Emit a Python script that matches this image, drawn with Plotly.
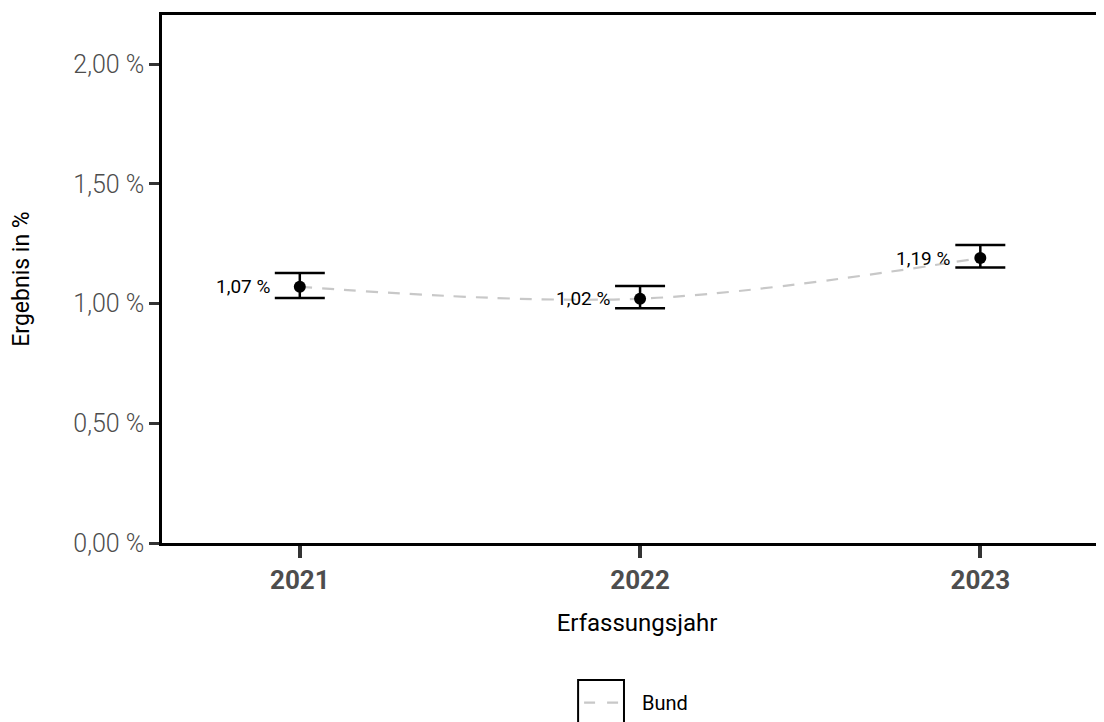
import plotly.graph_objects as go

years = [2021, 2022, 2023]
values = [1.07, 1.02, 1.19]
ci_upper = [1.127, 1.073, 1.244]
ci_lower = [1.023, 0.980, 1.150]
y_ticks = [0.0, 0.5, 1.0, 1.5, 2.0]
y_tick_labels = ["0,00 %", "0,50 %", "1,00 %", "1,50 %", "2,00 %"]
series_name = "Bund"

def fmt(v):
    return f"{v:.2f}".replace(".", ",") + " %"

LINE_COLOR = "#c8c8c8"
FONT = "Roboto"

fig = go.Figure()

fig.add_trace(go.Scatter(
    x=years, y=values, mode="lines", name=series_name,
    line=dict(color=LINE_COLOR, width=2.2, dash="12px,10px", shape="spline", smoothing=1),
    showlegend=False,
))

fig.add_trace(go.Scatter(
    x=years, y=values, mode="markers", showlegend=False,
    marker=dict(color="black", size=12),
    error_y=dict(type="data", symmetric=False,
                 array=[u - v for u, v in zip(ci_upper, values)],
                 arrayminus=[v - l for v, l in zip(values, ci_lower)],
                 color="black", thickness=2.5, width=25),
))

for x, v in zip(years, values):
    fig.add_annotation(x=x, y=v, text=fmt(v), showarrow=False, xanchor="right",
                       yanchor="middle", xshift=-28,
                       font=dict(family=FONT, size=19, color="black"))

# legend (drawn manually: boxed key + label)
fig.add_shape(type="rect", xref="paper", yref="paper",
              x0=0.438, x1=0.4863, y0=-0.2595, y1=-0.3466,
              line=dict(color="black", width=2), fillcolor="white", layer="above")
fig.add_shape(type="line", xref="paper", yref="paper",
              x0=0.4443, x1=0.4811, y0=-0.3025, y1=-0.3025,
              line=dict(color=LINE_COLOR, width=2.2, dash="11px,12px"), layer="above")
fig.add_annotation(xref="paper", yref="paper", x=0.5032, y=-0.3025, text=series_name,
                   showarrow=False, xanchor="left", yanchor="middle",
                   font=dict(family=FONT, size=20, color="black"))

fig.update_layout(
    width=1104, height=722,
    margin=dict(l=154, r=0, t=7, b=187),
    paper_bgcolor="white", plot_bgcolor="white",
    showlegend=False,
    xaxis=dict(range=[2020.595, 2023.387], tickmode="array", tickvals=years,
               ticktext=[str(y) for y in years],
               showgrid=False, zeroline=False,
               showline=True, linecolor="black", linewidth=2.5, mirror=True,
               ticks="outside", ticklen=12, tickwidth=4, tickcolor="#333333",
               tickfont=dict(family=FONT, size=26, color="#4d4d4d", weight="bold"),
               title=dict(text="Erfassungsjahr", font=dict(family=FONT, size=24, color="black"),
                          standoff=21)),
    yaxis=dict(range=[0, 2.2046], tickmode="array", tickvals=y_ticks, ticktext=y_tick_labels,
               showgrid=False, zeroline=False,
               showline=True, linecolor="black", linewidth=2.5,
               ticks="outside", ticklen=10, tickwidth=2.5, tickcolor="#333333",
               tickfont=dict(family=FONT, size=25, color="#4d4d4d", weight=300),
               title=dict(text="Ergebnis in %", font=dict(family=FONT, size=23, color="black"),
                          standoff=40)),
)

fig.write_html("out.html")
